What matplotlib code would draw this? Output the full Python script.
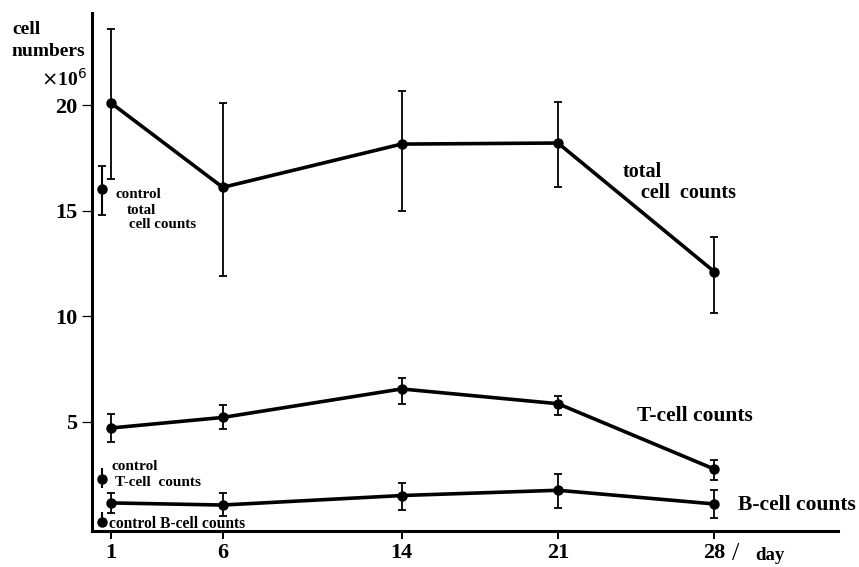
import matplotlib
matplotlib.use("Agg")
import matplotlib.pyplot as plt
import numpy as np

# ---- data (cell numbers x10^6) ----
days = [1, 6, 14, 21, 28]
day_labels = ["1", "6", "14", "21", "28"]

total_mean = [20.1, 16.1, 18.15, 18.2, 12.1]
total_hi = [23.6, 20.1, 20.65, 20.15, 13.75]
total_lo = [16.5, 11.9, 15.0, 16.1, 10.15]

t_mean = [4.7, 5.2, 6.55, 5.85, 2.75]
t_hi = [5.35, 5.8, 7.05, 6.2, 3.2]
t_lo = [4.05, 4.65, 5.85, 5.3, 2.25]

b_mean = [1.15, 1.05, 1.5, 1.75, 1.1]
b_hi = [1.6, 1.6, 2.1, 2.5, 1.75]
b_lo = [0.65, 0.55, 0.8, 0.9, 0.45]

control_day = 0.6
control_total = [16.0, 17.1, 14.8]   # mean, hi, lo
control_t = [2.3, 2.8, 1.85]
control_b = [0.25, 0.7, 0.0]

yticks = [5, 10, 15, 20]

W, H = 859, 567
fig = plt.figure(figsize=(W / 100, H / 100), dpi=100)
ax = fig.add_axes([92 / W, 1 - 531 / H, (838 - 92) / W, (531 - 13) / H])

FONT = "Liberation Serif"


def series(mean, hi, lo, lw=2.6):
    mean = np.array(mean)
    err = [mean - np.array(lo), np.array(hi) - mean]
    ax.errorbar(days, mean, yerr=err, color="black", lw=lw, marker="o",
                ms=6.5, elinewidth=1.3, capsize=3.0, capthick=1.3)


series(total_mean, total_hi, total_lo)
series(t_mean, t_hi, t_lo)
series(b_mean, b_hi, b_lo)

for c in (control_total, control_t, control_b):
    ax.errorbar([control_day], [c[0]], yerr=[[c[0] - c[2]], [c[1] - c[0]]],
                color="black", marker="o", ms=6.5, elinewidth=1.5,
                capsize=0 if c is not control_total else 3.0, capthick=1.3,
                clip_on=False)

ax.set_xlim(0.15, 33.53)
ax.set_ylim(-0.18, 24.36)

for s in ("top", "right"):
    ax.spines[s].set_visible(False)
for s in ("left", "bottom"):
    ax.spines[s].set_linewidth(2.2)

ax.set_xticks(days)
ax.set_xticklabels(day_labels, fontfamily=FONT, fontweight="bold", fontsize=16)
ax.set_yticks(yticks)
ax.set_yticklabels([str(v) for v in yticks], fontfamily=FONT, fontweight="bold", fontsize=16)
ax.tick_params(axis="x", direction="out", length=6, width=1.4, pad=2.5)
ax.tick_params(axis="y", direction="out", length=7.5, width=0.9, pad=3)


def ftext(x, y, s, size=13, ha="left", weight="bold", **kw):
    fig.text(x / W, 1 - y / H, s, fontsize=size, ha=ha, va="center",
             fontfamily=FONT, fontweight=weight, **kw)


ftext(12, 30, "cell", 14)
ftext(12, 51, "numbers", 14)
ftext(41, 79, r"$\times$10$^{6}$", 14)

ftext(115, 195, "control", 10.8)
ftext(127, 210, "total", 10.8)
ftext(129, 225, "cell counts", 10.8)

ftext(623, 172, "total", 14.5)
ftext(641, 193, "cell  counts", 14.5)

ftext(637, 416, "T-cell counts", 15.5)
ftext(738, 505, "B-cell counts", 15.5)

ftext(112, 467, "control", 11)
ftext(115, 483, "T-cell  counts", 11)
ftext(109, 524, "control B-cell counts", 11.2)

ftext(732, 554, "/", 19, weight="normal")
ftext(755, 556, "day", 13.5)

fig.savefig("out.png", dpi=100)
